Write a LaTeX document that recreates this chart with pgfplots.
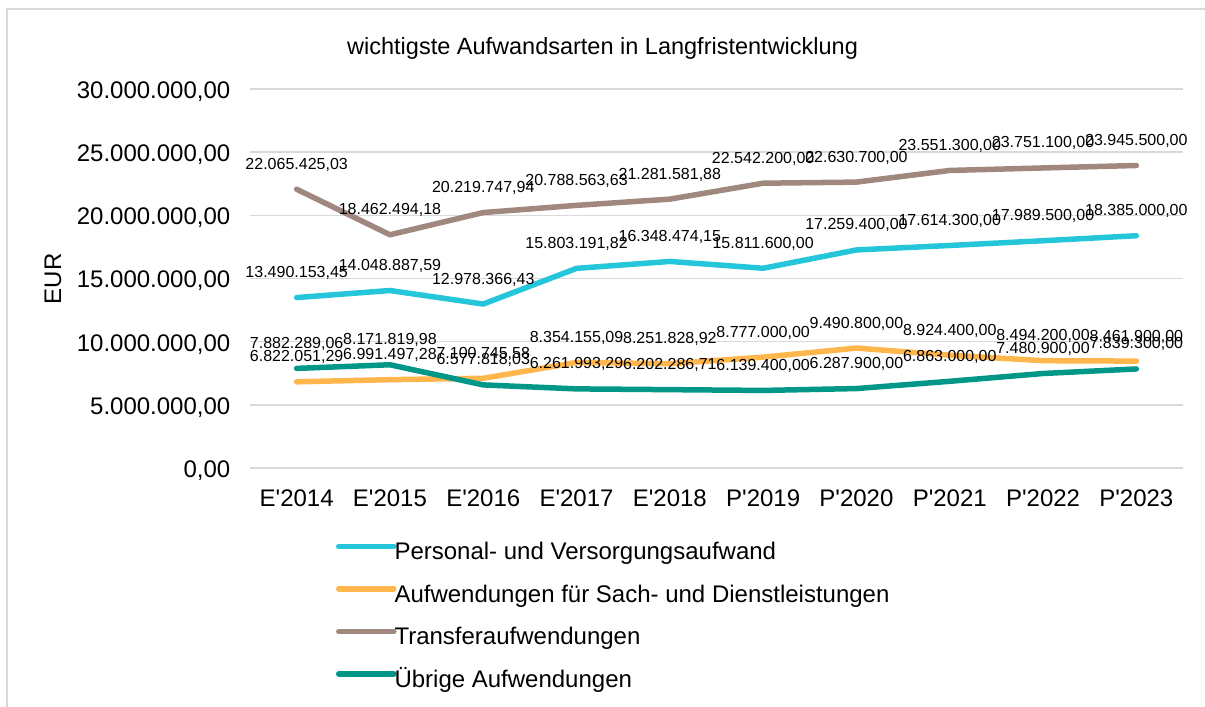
\documentclass[border=0pt]{standalone}
\usepackage{pgfplots}
\pgfplotsset{compat=1.18}
\usepackage{pgfplotstable}
\usepackage{fontspec}
\setmainfont{Liberation Sans}
\definecolor{cPers}{RGB}{38,198,218}
\definecolor{cSach}{RGB}{255,183,77}
\definecolor{cTrans}{RGB}{161,136,127}
\definecolor{cUeb}{RGB}{0,150,136}
\definecolor{cGrid}{RGB}{217,217,217}

\pgfplotstableread{
x y lab
0 13490153.45 13.490.153,45
1 14048887.59 14.048.887,59
2 12978366.43 12.978.366,43
3 15803191.82 15.803.191,82
4 16348474.15 16.348.474,15
5 15811600.00 15.811.600,00
6 17259400.00 17.259.400,00
7 17614300.00 17.614.300,00
8 17989500.00 17.989.500,00
9 18385000.00 18.385.000,00
}\persdata

\pgfplotstableread{
x y lab
0 6822051.29 6.822.051,29
1 6991497.28 6.991.497,28
2 7100745.58 7.100.745,58
3 8354155.09 8.354.155,09
4 8251828.92 8.251.828,92
5 8777000.00 8.777.000,00
6 9490800.00 9.490.800,00
7 8924400.00 8.924.400,00
8 8494200.00 8.494.200,00
9 8461900.00 8.461.900,00
}\sachdata

\pgfplotstableread{
x y lab
0 22065425.03 22.065.425,03
1 18462494.18 18.462.494,18
2 20219747.94 20.219.747,94
3 20788563.63 20.788.563,63
4 21281581.88 21.281.581,88
5 22542200.00 22.542.200,00
6 22630700.00 22.630.700,00
7 23551300.00 23.551.300,00
8 23751100.00 23.751.100,00
9 23945500.00 23.945.500,00
}\transdata

\pgfplotstableread{
x y lab
0 7882289.06 7.882.289,06
1 8171819.98 8.171.819,98
2 6577818.03 6.577.818,03
3 6261993.29 6.261.993,29
4 6202286.71 6.202.286,71
5 6139400.00 6.139.400,00
6 6287900.00 6.287.900,00
7 6863000.00 6.863.000,00
8 7480900.00 7.480.900,00
9 7839300.00 7.839.300,00
}\uebdata

\begin{document}
\begin{tikzpicture}
\draw[cGrid, line width=1.5bp] (7bp,-20bp) -- (7bp,698bp) -- (1230bp,698bp);
\node[anchor=base west, font=\fontsize{23.5bp}{27bp}\selectfont, inner sep=0pt] at (347bp,652bp) {wichtigste Aufwandsarten in Langfristentwicklung};
\node[rotate=90, font=\fontsize{24bp}{28bp}\selectfont, inner sep=0pt] at (53bp,428bp) {EUR};
\begin{axis}[
  at={(250bp,239bp)}, anchor=south west,
  scale only axis, width=933bp, height=379bp,
  xmin=-0.5, xmax=9.5, ymin=0, ymax=30000000,
  xtick={0,...,9},
  xticklabels={E\textquotesingle 2014,E\textquotesingle 2015,E\textquotesingle 2016,E\textquotesingle 2017,E\textquotesingle 2018,P\textquotesingle 2019,P\textquotesingle 2020,P\textquotesingle 2021,P\textquotesingle 2022,P\textquotesingle 2023},
  ytick={0,5000000,10000000,15000000,20000000,25000000,30000000},
  scaled y ticks=false,
  y tick label style={/pgf/number format/fixed, /pgf/number format/fixed zerofill, /pgf/number format/precision=2, /pgf/number format/1000 sep={.}, /pgf/number format/use comma, /pgf/number format/assume math mode=true,
    anchor=base east, inner sep=0pt, xshift=-19.5bp, yshift=-9.5bp},
  x tick label style={anchor=base, inner sep=0pt, yshift=-38.7bp},
  tick label style={font=\fontsize{24bp}{28bp}\selectfont},
  axis line style={draw=none},
  major tick length=0pt,
  ymajorgrids, grid style={draw=cGrid, line width=1.5bp},
  clip=false,
  nodes near coords,
  point meta=explicit symbolic,
  nodes near coords style={anchor=base, inner sep=0pt, yshift=20bp, font=\fontsize{16bp}{18bp}\selectfont, text=black},
  every axis plot/.append style={line width=5.5bp, line cap=round, line join=round, mark=none},
  legend style={at={(axis description cs:0.0922,-0.195)}, anchor=north west, draw=none, fill=none,
     inner sep=0pt, outer sep=0pt, row sep=19.5bp, column sep=-2bp,
     font=\fontsize{24bp}{28bp}\selectfont,
     nodes={inner sep=0pt, text height=18bp, text depth=5bp}},
  legend cell align=left,
  legend image code/.code={\draw[#1] (0bp,7bp) -- (55bp,7bp);},
]
\addplot[cPers] table[x=x, y=y, meta=lab] {\persdata};
\addlegendentry{Personal- und Versorgungsaufwand}
\addplot[cSach] table[x=x, y=y, meta=lab] {\sachdata};
\addlegendentry{Aufwendungen für Sach- und Dienstleistungen}
\addplot[cTrans] table[x=x, y=y, meta=lab] {\transdata};
\addlegendentry{Transferaufwendungen}
\addplot[cUeb] table[x=x, y=y, meta=lab] {\uebdata};
\addlegendentry{Übrige Aufwendungen}
\end{axis}
\pgfresetboundingbox
\useasboundingbox (0bp,0bp) rectangle (1205bp,707bp);
\end{tikzpicture}
\end{document}
